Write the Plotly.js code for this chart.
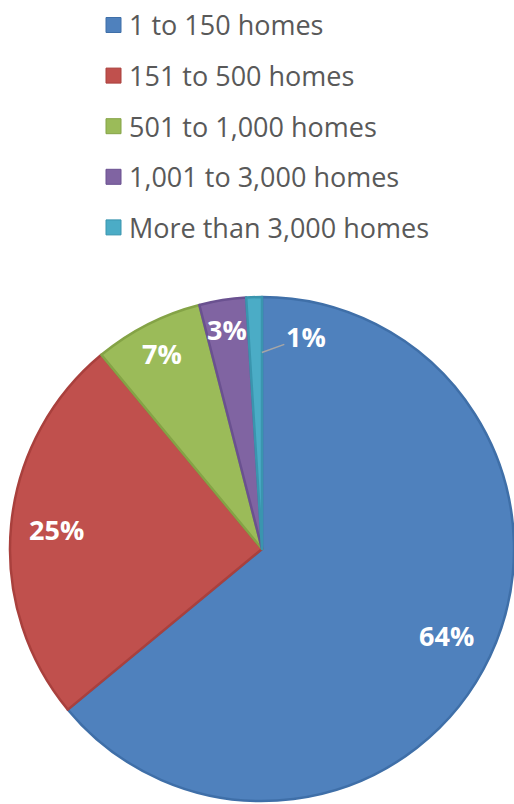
<!DOCTYPE html>
<html>
<head>
<meta charset="utf-8">
<script src="https://cdn.plot.ly/plotly-3.0.1.min.js"></script>
<style>html,body{margin:0;padding:0;background:#fff;}#chart{width:514px;height:804px;}</style>
</head>
<body>
<div id="chart"></div>
<script>
const labels = ['1 to 150 homes', '151 to 500 homes', '501 to 1,000 homes', '1,001 to 3,000 homes', 'More than 3,000 homes'];
const values = [64, 25, 7, 3, 1];
const colors = ['#4F81BD', '#C0504D', '#9BBB59', '#8064A2', '#4BACC6'];
const edgeColors = ['#3F6FA8', '#A9403D', '#84A346', '#6A5190', '#3A95AE'];

const W = 514, H = 804;
const cxPx = 262, cyPx = 549, R = 252;
const domX = [(cxPx - R) / W, (cxPx + R) / W];
const domY = [(H - cyPx - R) / H, (H - cyPx + R) / H];

const trace = {
  type: 'pie',
  values: values,
  labels: labels,
  sort: false,
  direction: 'clockwise',
  rotation: 0,
  domain: {x: domX, y: domY},
  marker: {colors: colors, line: {color: edgeColors, width: 2.5}},
  textinfo: 'none',
  hoverinfo: 'none',
  showlegend: false,
  automargin: false
};

const annotations = [];
const shapes = [];
// legend built from the category arrays
const legX = 106, legTextX = 127, legY0 = 25, legStep = 50.6, sq = 15;
labels.forEach((lab, i) => {
  const yc = legY0 + i * legStep;
  shapes.push({type: 'rect', xref: 'paper', yref: 'paper',
    x0: legX / W, x1: (legX + sq) / W, y0: 1 - (yc + sq / 2) / H, y1: 1 - (yc - sq / 2) / H,
    fillcolor: colors[i], line: {color: edgeColors[i], width: 1}});
  annotations.push({xref: 'paper', yref: 'paper', x: legTextX / W, y: 1 - yc / H,
    xanchor: 'left', yanchor: 'middle', showarrow: false, text: lab,
    font: {family: 'Open Sans, sans-serif', size: 27, color: '#595959'}});
});

// percentage labels placed along each slice's bisector (computed from the values)
const labelR = [0.81, 0.82, 0.87, 0.88];
const total = values.reduce((a, b) => a + b, 0);
const lblFont = {family: 'Open Sans, sans-serif', size: 27, color: '#ffffff', weight: 'bold'};
let cum = 0;
values.forEach((v, i) => {
  const ang = (cum + v / 2) / total * 2 * Math.PI; // clockwise from 12 o'clock
  cum += v;
  if (i < labelR.length) {
    const px = cxPx + labelR[i] * R * Math.sin(ang);
    const py = cyPx - labelR[i] * R * Math.cos(ang);
    annotations.push({xref: 'paper', yref: 'paper', x: px / W, y: 1 - py / H,
      text: v + '%', showarrow: false, xanchor: 'center', yanchor: 'middle', font: lblFont});
  } else {
    const pr = 0.78 * R;
    const px = cxPx + pr * Math.sin(ang) + 6;
    const py = cyPx - pr * Math.cos(ang);
    annotations.push({xref: 'paper', yref: 'paper', x: px / W, y: 1 - py / H,
      text: v + '%', showarrow: true, arrowhead: 0, arrowwidth: 1.5, arrowcolor: '#A6A6A6',
      ax: 44, ay: -16, xanchor: 'center', yanchor: 'middle', font: lblFont});
  }
});

const layout = {
  width: W, height: H,
  margin: {l: 0, r: 0, t: 0, b: 0},
  paper_bgcolor: '#ffffff',
  showlegend: false,
  annotations: annotations,
  shapes: shapes
};

Plotly.newPlot('chart', [trace], layout, {displayModeBar: false, staticPlot: true});
</script>
</body>
</html>
